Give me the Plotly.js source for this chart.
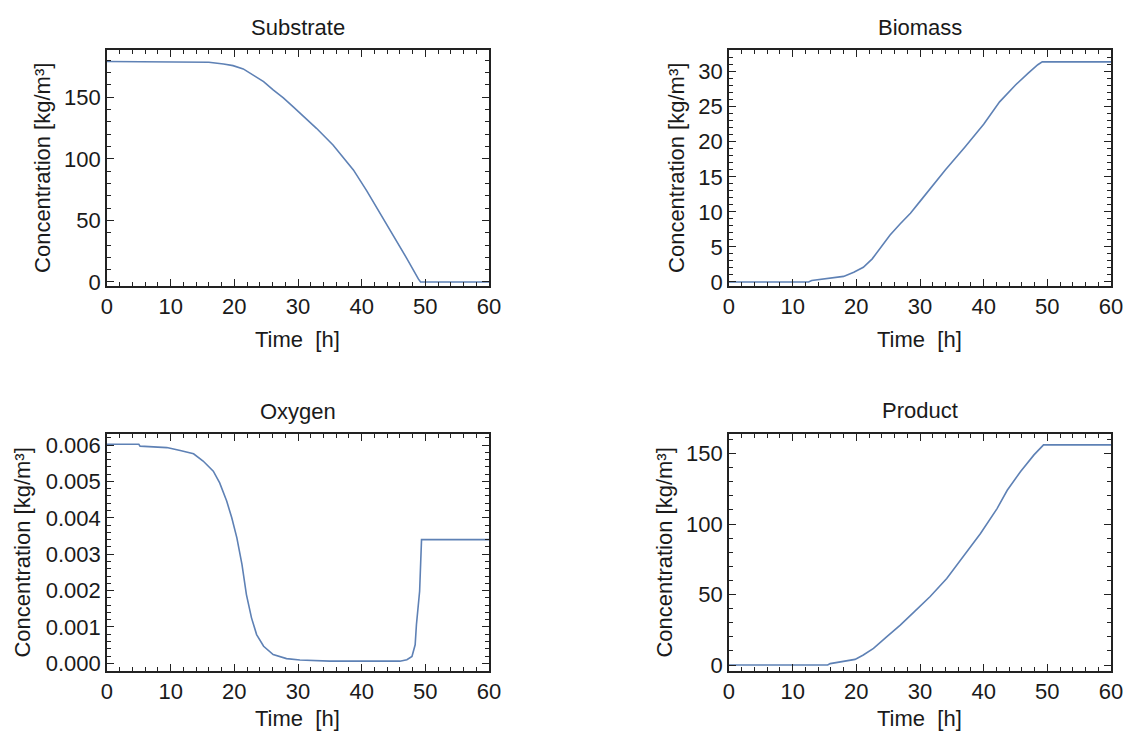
<!DOCTYPE html>
<html>
<head>
<meta charset="utf-8">
<script src="https://cdn.plot.ly/plotly-3.0.1.min.js"></script>
<style>html,body{margin:0;padding:0;background:#fff;}</style>
</head>
<body>
<div id="chart" style="width:1126px;height:734px;"></div>
<script>
// ---- data ----
const panelTitles = ["Substrate", "Biomass", "Oxygen", "Product"];
const xLabel = "Time\u00a0 [h]";
const yLabel = "Concentration [kg/m\u00b3]";

const timeSubstrate = [0, 16, 18.3, 19.8, 21.4, 23, 24.6, 26.1, 27.7, 29.3, 30.8, 32.9, 35.5, 38.7, 40.8, 42.9, 45, 47.1, 48.9, 49.25, 60];
const substrate     = [179, 178.5, 177, 175.7, 173, 168, 162.7, 156, 149.5, 142, 135, 124.8, 111.3, 91, 74, 56, 37.5, 19, 2.5, 0, 0];

const timeBiomass = [0, 12.5, 13, 16, 18, 19.6, 21.1, 22.5, 23.8, 25.3, 26.9, 28.5, 30, 31.6, 34, 37, 40, 42.5, 45, 47, 48.5, 49.2, 60];
const biomass     = [0, 0, 0.2, 0.5, 0.8, 1.4, 2.1, 3.3, 4.8, 6.7, 8.3, 9.8, 11.5, 13.3, 16.0, 19.2, 22.5, 25.7, 28.1, 29.8, 31.0, 31.4, 31.4];

const timeOxygen = [0, 5, 5.2, 9.4, 11.5, 13.6, 15.1, 16.7, 17.7, 18.8, 19.6, 20.4, 21.2, 21.9, 22.7, 23.5, 24.6, 26.1, 28.2, 30.3, 35, 46, 47.1, 47.9, 48.4, 48.6, 49.1, 49.3, 49.4, 60];
const oxygen     = [0.00602, 0.00602, 0.00597, 0.00593, 0.00585, 0.00576, 0.00556, 0.00528, 0.00496, 0.00446, 0.0040, 0.00345, 0.00272, 0.00189, 0.00125, 0.00079, 0.00047, 0.00024, 0.00013, 0.00009, 0.00006, 0.00006, 0.0001, 0.00019, 0.00051, 0.00106, 0.00198, 0.00304, 0.0034, 0.0034];

const timeProduct = [0, 15.5, 15.9, 18, 19.8, 21.1, 22.7, 24.8, 26.9, 29, 31.6, 34.2, 36.8, 39.5, 42.1, 43.7, 45.8, 47.9, 49.4, 60];
const product     = [0, 0, 1.0, 2.4, 4.0, 7.1, 11.8, 20.1, 28.3, 37.3, 48.6, 61.4, 76.8, 93.3, 111, 124, 137.3, 149.1, 156.2, 156.2];

// ---- styling ----
const lineColor = "#5e81b5";
const frameColor = "#222";
const textColor = "#1a1a1a";
const fontFam = "Liberation Sans, Arial, sans-serif";
const fontSize = 22;

function trace(x, y, xa, ya) {
  return {x: x, y: y, xaxis: xa, yaxis: ya, type: "scatter", mode: "lines",
          line: {color: lineColor, width: 1.6}, hoverinfo: "x+y"};
}
const data = [
  trace(timeSubstrate, substrate, "x", "y"),
  trace(timeBiomass, biomass, "x2", "y2"),
  trace(timeOxygen, oxygen, "x3", "y3"),
  trace(timeProduct, product, "x4", "y4")
];

function axis(extra, mdtick) {
  return Object.assign({
    showline: true, linecolor: frameColor, linewidth: 1.5, mirror: "allticks",
    ticks: "inside", ticklen: 7, tickwidth: 1, tickcolor: frameColor,
    showgrid: false, zeroline: false, tick0: 0,
    tickfont: {family: fontFam, size: fontSize, color: textColor},
    minor: {ticks: "inside", ticklen: 4, tickwidth: 1, tickcolor: frameColor, showgrid: false, dtick: mdtick}
  }, extra);
}
function xax(domain, anchor) {
  return axis({domain: domain, anchor: anchor, range: [0, 60], dtick: 10}, 2);
}
function yax(domain, anchor, range, dtick, mdtick, fmt) {
  return axis({domain: domain, anchor: anchor, range: range, dtick: dtick, tickformat: fmt || ""}, mdtick);
}

const xLeft = [0.0950, 0.4343], xRight = [0.6474, 0.9867];
const yTop = [0.6104, 0.9319], yBot = [0.0858, 0.4087];
const mid = d => (d[0] + d[1]) / 2;
const py = p => 1 - p / 734;
const px = p => p / 1126;

const annos = [
  // panel titles
  {text: panelTitles[0], x: mid(xLeft), y: py(27)},
  {text: panelTitles[1], x: mid(xRight), y: py(27)},
  {text: panelTitles[2], x: mid(xLeft), y: py(411)},
  {text: panelTitles[3], x: mid(xRight), y: py(410)},
  // x-axis titles
  {text: xLabel, x: mid(xLeft), y: py(340)},
  {text: xLabel, x: mid(xRight), y: py(340)},
  {text: xLabel, x: mid(xLeft), y: py(718)},
  {text: xLabel, x: mid(xRight), y: py(718)},
  // y-axis titles
  {text: yLabel, x: px(43), y: mid(yTop), textangle: -90},
  {text: yLabel, x: px(677), y: mid(yTop), textangle: -90},
  {text: yLabel, x: px(23), y: mid(yBot), textangle: -90},
  {text: yLabel, x: px(665), y: mid(yBot), textangle: -90}
].map(a => Object.assign({xref: "paper", yref: "paper", showarrow: false,
    xanchor: "center", yanchor: "middle",
    font: {family: fontFam, size: fontSize, color: textColor}}, a));

const layout = {
  width: 1126, height: 734,
  margin: {l: 0, r: 0, t: 0, b: 0},
  paper_bgcolor: "#fff", plot_bgcolor: "#fff",
  showlegend: false,
  font: {family: fontFam, size: fontSize, color: textColor},
  xaxis: xax(xLeft, "y"),
  yaxis: yax(yTop, "x", [-3.25, 188.4], 50, 10),
  xaxis2: xax(xRight, "y2"),
  yaxis2: yax(yTop, "x2", [-0.57, 33.1], 5, 1),
  xaxis3: xax(xLeft, "y3"),
  yaxis3: yax(yBot, "x3", [-0.000211, 0.006303], 0.001, 0.0002, ".3f"),
  xaxis4: xax(xRight, "y4"),
  yaxis4: yax(yBot, "x4", [-4.25, 163.9], 50, 10),
  annotations: annos
};

Plotly.newPlot("chart", data, layout, {displayModeBar: false, responsive: false});
</script>
</body>
</html>
